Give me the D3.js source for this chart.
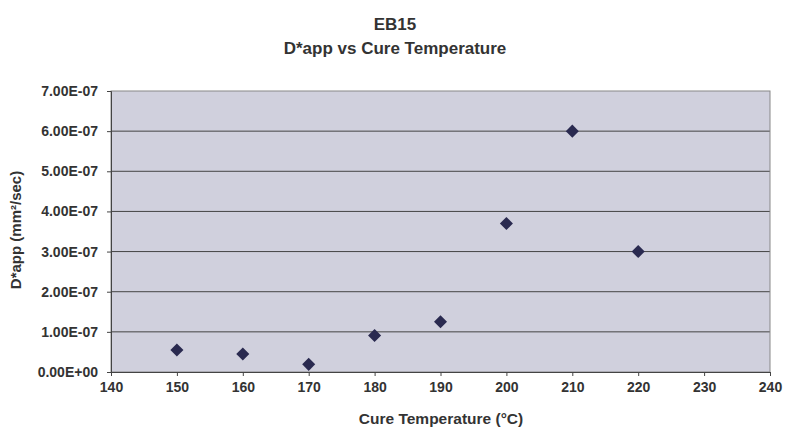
<!DOCTYPE html>
<html><head><meta charset="utf-8">
<script src="https://cdn.jsdelivr.net/npm/d3@7"></script>
<style>body{margin:0;background:#fff}svg{display:block}text{font-family:"Liberation Sans",Arial,sans-serif;font-weight:bold;fill:#333}</style>
</head><body><svg id="c" width="785" height="430"></svg>
<script>
const temps = [150,160,170,180,190,200,210,220];
const dapp = [5.5e-8,4.5e-8,1.9e-8,9.1e-8,1.25e-7,3.7e-7,6.0e-7,3.0e-7];
const xTicks = [140,150,160,170,180,190,200,210,220,230,240];
const yTicks = [0,1e-7,2e-7,3e-7,4e-7,5e-7,6e-7,7e-7];
const titleLines = ["EB15","D*app vs Cure Temperature"];
const xTitle = "Cure Temperature (°C)";
const yTitle = "D*app (mm²/sec)";

const svg = d3.select("#c");
const L=111,R=770,T=91,B=372;
const x = d3.scaleLinear().domain([140,240]).range([L,R]);
const y = d3.scaleLinear().domain([0,7e-7]).range([B,T]);

svg.append("rect").attr("x",L).attr("y",T).attr("width",R-L).attr("height",B-T).attr("fill","#d0d0dd");
svg.append("g").selectAll("line").data(yTicks.slice(1,-1)).join("line")
  .attr("x1",L).attr("x2",R).attr("y1",d=>y(d)).attr("y2",d=>y(d)).attr("stroke","#444").attr("stroke-width",1);
svg.append("rect").attr("x",L).attr("y",T).attr("width",R-L).attr("height",B-T).attr("fill","none").attr("stroke","#888").attr("stroke-width",1);

const fmt = d => d===0 ? "0.00E+00" : d3.format(".2e")(d).replace("e-","E-0");
const ya = svg.append("g").attr("transform",`translate(${L},0)`)
  .call(d3.axisLeft(y).tickValues(yTicks).tickFormat(fmt).tickSize(4).tickPadding(9));
ya.select(".domain").attr("stroke","#444");
ya.selectAll(".tick line").attr("stroke","#444");
ya.selectAll("text").style("font-size","14px").style("font-family","'Liberation Sans',Arial,sans-serif").style("font-weight","bold").attr("fill","#333");

const xa = svg.append("g").attr("transform",`translate(0,${B})`)
  .call(d3.axisBottom(x).tickValues(xTicks).tickFormat(d3.format("d")).tickSize(4).tickPadding(6));
xa.select(".domain").attr("stroke","#444");
xa.selectAll(".tick line").attr("stroke","#444");
xa.selectAll("text").style("font-size","14px").style("font-family","'Liberation Sans',Arial,sans-serif").style("font-weight","bold").attr("fill","#333");

svg.append("g").selectAll("path").data(temps.map((t,i)=>[t,dapp[i]])).join("path")
  .attr("transform",d=>`translate(${x(d[0])},${y(d[1])}) rotate(45)`)
  .attr("d",d3.symbol().type(d3.symbolSquare).size(85)).attr("fill","#2a2a50");

svg.selectAll(".title").data(titleLines).join("text")
  .attr("x",395).attr("y",(d,i)=>30+i*24).attr("text-anchor","middle").style("font-size","17px").text(d=>d);
svg.append("text").attr("x",441).attr("y",424).attr("text-anchor","middle").style("font-size","15.5px").text(xTitle);
svg.append("text").attr("transform","translate(21,230) rotate(-90)").attr("text-anchor","middle").style("font-size","15px").text(yTitle);
</script></body></html>
